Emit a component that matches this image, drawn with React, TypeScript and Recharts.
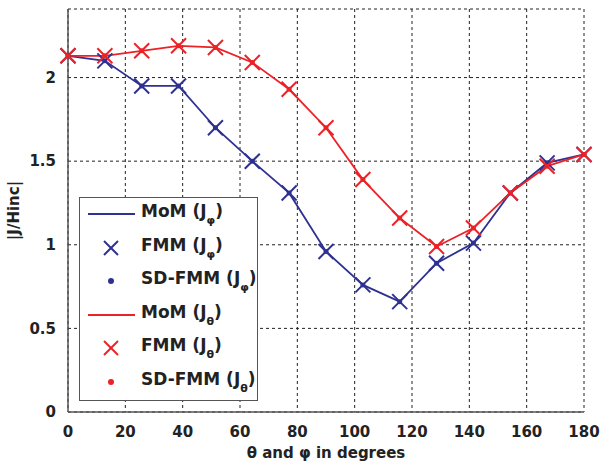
import React from "react";
import {
  LineChart,
  Line,
  XAxis,
  YAxis,
  CartesianGrid,
  Label,
} from "recharts";

// angles (degrees) sampled every 180/14
const angles = [0, 12.86, 25.71, 38.57, 51.43, 64.29, 77.14, 90, 102.86, 115.71, 128.57, 141.43, 154.29, 167.14, 180];
const jPhi = [2.13, 2.1, 1.95, 1.95, 1.7, 1.5, 1.31, 0.96, 0.76, 0.66, 0.89, 1.01, 1.31, 1.49, 1.54];
const jTheta = [2.13, 2.13, 2.16, 2.19, 2.18, 2.09, 1.93, 1.7, 1.39, 1.16, 0.99, 1.1, 1.31, 1.47, 1.54];
const xTicks = [0, 20, 40, 60, 80, 100, 120, 140, 160, 180];
const yTicks = [0, 0.5, 1, 1.5, 2];

const BLUE = "#2e3191";
const RED = "#ec2227";
const FONT = "'DejaVu Sans', sans-serif";

const data = angles.map((a, i) => ({ angle: a, phi: jPhi[i], theta: jTheta[i] }));

const makeDot = (color: string) => (props: any) => {
  const { cx, cy, index } = props;
  if (cx == null || cy == null) return <g key={index} />;
  const s = 7.5;
  return (
    <g key={index}>
      <line x1={cx - s} y1={cy - s} x2={cx + s} y2={cy + s} stroke={color} strokeWidth={2} />
      <line x1={cx - s} y1={cy + s} x2={cx + s} y2={cy - s} stroke={color} strokeWidth={2} />
      <circle cx={cx} cy={cy} r={2.5} fill={color} />
    </g>
  );
};

const legendItems = [
  { kind: "line", color: BLUE, name: "MoM", sub: "φ" },
  { kind: "x", color: BLUE, name: "FMM", sub: "φ" },
  { kind: "dot", color: BLUE, name: "SD-FMM", sub: "φ" },
  { kind: "line", color: RED, name: "MoM", sub: "θ" },
  { kind: "x", color: RED, name: "FMM", sub: "θ" },
  { kind: "dot", color: RED, name: "SD-FMM", sub: "θ" },
];

const LegendBox = () => (
  <div
    style={{
      position: "absolute",
      left: 79,
      top: 197,
      width: 179,
      height: 204,
      border: "1.5px solid #555",
      background: "#fff",
      boxSizing: "border-box",
      fontFamily: FONT,
      fontWeight: "bold",
      fontSize: 17,
      color: "#222",
    }}
  >
    {legendItems.map((it, i) => (
      <div
        key={i}
        style={{ position: "absolute", left: 0, top: 3 + i * 33.5, height: 26, display: "flex", alignItems: "center" }}
      >
        <svg width={60} height={26}>
          {it.kind === "line" && <line x1={8} y1={13} x2={55} y2={13} stroke={it.color} strokeWidth={2} />}
          {it.kind === "x" && (
            <g stroke={it.color} strokeWidth={2}>
              <line x1={24} y1={6} x2={38} y2={20} />
              <line x1={24} y1={20} x2={38} y2={6} />
            </g>
          )}
          {it.kind === "dot" && <circle cx={31} cy={13} r={3} fill={it.color} />}
        </svg>
        <span style={{ whiteSpace: "nowrap", marginLeft: 1 }}>
          {it.name} (J<sub style={{ fontSize: 11, verticalAlign: -7 }}>{it.sub}</sub>)
        </span>
      </div>
    ))}
  </div>
);

export default function App() {
  const tickStyle = { fontFamily: FONT, fontWeight: "bold", fontSize: 15, fill: "#222" };
  return (
    <div style={{ position: "absolute", left: 0, top: 0, width: 601, height: 462, background: "#fff" }}>
      <LineChart width={601} height={462} data={data} margin={{ top: 9, right: 17, bottom: 0, left: 0 }}>
        <CartesianGrid stroke="#222" strokeDasharray="3 3" />
        <XAxis
          dataKey="angle"
          type="number"
          domain={[0, 180]}
          ticks={xTicks}
          tick={tickStyle}
          tickLine={false}
          axisLine={{ stroke: "#555", strokeWidth: 1.5 }}
          tickMargin={8}
          height={50}
        >
          <Label
            value="θ and φ in degrees"
            position="insideBottom"
            offset={4}
            style={{ fontFamily: FONT, fontWeight: "bold", fontSize: 15, fill: "#222" }}
          />
        </XAxis>
        <YAxis
          type="number"
          domain={[0, 2.41]}
          ticks={yTicks}
          tick={tickStyle}
          tickLine={false}
          axisLine={{ stroke: "#555", strokeWidth: 1.5 }}
          tickMargin={6}
          width={68}
        >
          <Label
            value="|J/Hinc|"
            angle={-90}
            position="insideLeft"
            offset={14}
            style={{ fontFamily: FONT, fontWeight: "bold", fontSize: 15, fill: "#222", textAnchor: "middle" }}
          />
        </YAxis>
        <Line
          dataKey="phi"
          stroke={BLUE}
          strokeWidth={1.8}
          dot={makeDot(BLUE)}
          isAnimationActive={false}
        />
        <Line
          dataKey="theta"
          stroke={RED}
          strokeWidth={1.8}
          dot={makeDot(RED)}
          isAnimationActive={false}
        />
      </LineChart>
      <LegendBox />
    </div>
  );
}
